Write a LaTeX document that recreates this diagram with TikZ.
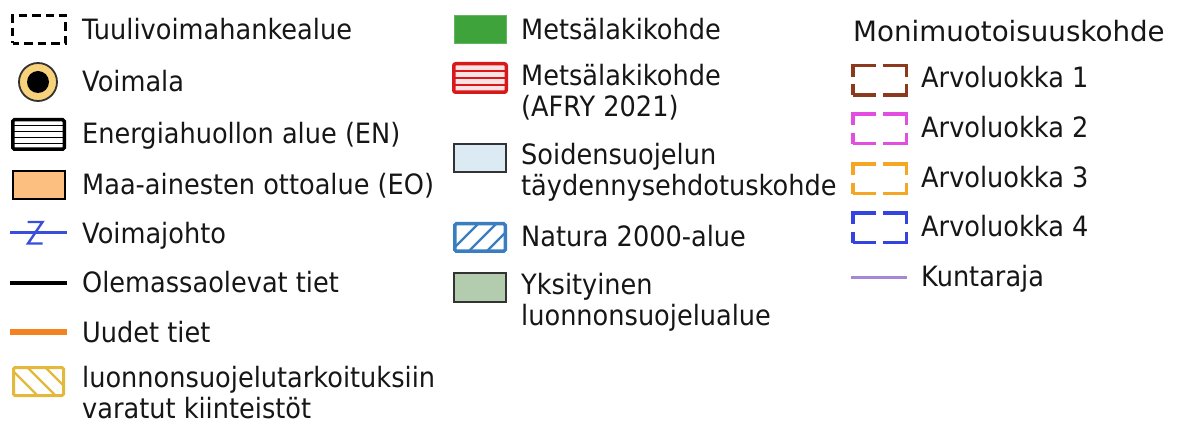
\documentclass[tikz,border=0pt]{standalone}
\usepackage{fontspec}
\setmainfont{DejaVu Sans}[FakeStretch=0.915]
\newfontfamily\headfont{DejaVu Sans}[FakeStretch=0.99]
\definecolor{voimgold}{HTML}{F8D27A}
\definecolor{maaorange}{HTML}{FDBF80}
\definecolor{johtoblue}{HTML}{3A4FD9}
\definecolor{tieorange}{HTML}{F58220}
\definecolor{varayellow}{HTML}{E2B93B}
\definecolor{metsagreen}{HTML}{3DA33A}
\definecolor{afryred}{HTML}{D7191C}
\definecolor{afrypink}{HTML}{FCE3E3}
\definecolor{soidenblue}{HTML}{DCEAF4}
\definecolor{naturablue}{HTML}{3A7EC0}
\definecolor{yksitgreen}{HTML}{B4CCAE}
\definecolor{boxgray}{HTML}{333333}
\definecolor{arvobrown}{HTML}{8B3A1E}
\definecolor{arvopink}{HTML}{E24FE0}
\definecolor{arvoorange}{HTML}{F5A623}
\definecolor{arvoblue}{HTML}{3444E0}
\definecolor{rajapurple}{HTML}{A686D6}
\definecolor{legblack}{HTML}{161616}
\usetikzlibrary{calc}
\tikzset{
	legtext/.style={anchor=base west, inner sep=0pt, align=left, text=legblack, font=\fontsize{28}{31}\selectfont},
	swatch/.style={rectangle, inner sep=0pt, minimum width=52pt, minimum height=28pt, line width=2pt},
	fillbox/.style={swatch, draw=boxgray, line width=1.8pt},
	arvobox/.style={swatch, minimum width=53.5pt, minimum height=29.5pt, line width=3.5pt, dash pattern=on 34pt off 7.5pt, dash phase=11pt},
	legline/.style={line width=3pt},
	hlines/.style 2 args={path picture={
		\foreach \f in {#2}
			\draw[line width=1.6pt, #1] ($(path picture bounding box.south west)!\f!(path picture bounding box.north west)$) -- ++(60pt,0);}},
	backhatch/.style={path picture={
		\foreach \d in {-4,14,32,50}
			\draw[line width=2.2pt, #1] ($(path picture bounding box.north west)+(\d pt,0)$) -- ++(34pt,-34pt);}},
	fwdhatch/.style={path picture={
		\foreach \d in {-4,14,32,50}
			\draw[line width=2.2pt, #1] ($(path picture bounding box.south west)+(\d pt,0)$) -- ++(34pt,34pt);}},
}
\begin{document}
\begin{tikzpicture}[x=1pt, y=-1pt]
	\useasboundingbox (0,0) rectangle (1178,430);
	% first column
	\node[swatch, minimum width=53pt, minimum height=28pt, line width=3.2pt, draw=black, dash pattern=on 8.5pt off 5pt, dash phase=2pt] (tuuli) at (39,29.5) {};
	\node[circle, draw=black!80, fill=voimgold, line width=1.8pt, minimum size=38pt, inner sep=0pt] (voimala) at (38,82) {};
	\node[circle, fill=black, minimum size=22pt, inner sep=0pt] (voimalain) at (voimala) {};
	\node[swatch, minimum width=51.5pt, minimum height=29.5pt, line width=3.5pt, draw=black, fill=white, rounded corners=1.5pt, hlines={black}{0.2,0.4,0.6,0.8}] (energia) at (38.5,134.5) {};
	\node[fillbox, draw=black, fill=maaorange] (maa) at (39,185) {};
	\coordinate (johtoa) at (10,233);
	\coordinate (johtob) at (67,233);
	\draw[legline, johtoblue] (johtoa) -- (johtob);
	\draw[line width=2.4pt, johtoblue] (27.5,222) -- (42.5,222) -- (28,243.5) -- (42.5,243.5);
	\coordinate (tiea) at (10,283);
	\coordinate (tieb) at (67,283);
	\draw[legline, line width=4pt, black] (tiea) -- (tieb);
	\coordinate (uusia) at (10,332);
	\coordinate (uusib) at (67,332);
	\draw[legline, line width=5pt, tieorange] (uusia) -- (uusib);
	\node[swatch, minimum width=50pt, minimum height=28pt, line width=3pt, draw=varayellow, fill=white, rounded corners=1.5pt, backhatch=varayellow] (varattu) at (38.5,381.5) {};
	\node[legtext] (tuulitxt) at (82,40) {Tuulivoimahankealue};
	\node[legtext] (voimalatxt) at (82,92) {Voimala};
	\node[legtext] (energiatxt) at (82,144) {Energiahuollon alue (EN)};
	\node[legtext] (maatxt) at (82,195) {Maa-ainesten ottoalue (EO)};
	\node[legtext] (johtotxt) at (82,244) {Voimajohto};
	\node[legtext] (tietxt) at (82,293) {Olemassaolevat tiet};
	\node[legtext] (uusitxt) at (82,342) {Uudet tiet};
	\node[legtext] (varattutxt) at (82,418) {luonnonsuojelutarkoituksiin\\varatut kiinteistöt};
	% second column
	\node[swatch, minimum width=52pt, minimum height=28pt, line width=1pt, draw=metsagreen!80!white, fill=metsagreen] (metsa) at (480.5,29.5) {};
	\node[swatch, minimum width=52.5pt, minimum height=28.5pt, line width=3.5pt, draw=afryred, fill=afrypink, rounded corners=2pt, hlines={afryred}{0.25,0.5,0.75}] (afry) at (480,78) {};
	\node[fillbox, fill=soidenblue] (soiden) at (480,158) {};
	\node[swatch, minimum width=50.5pt, minimum height=27.5pt, line width=3.5pt, draw=naturablue, fill=white, rounded corners=1.5pt, fwdhatch=naturablue] (natura) at (480,237.5) {};
	\node[fillbox, minimum height=29pt, fill=yksitgreen] (yksit) at (480,287.5) {};
	\node[legtext] (metsatxt) at (521,40) {Metsälakikohde};
	\node[legtext] (afrytxt) at (521,117) {Metsälakikohde\\(AFRY 2021)};
	\node[legtext] (soidentxt) at (521,196) {Soidensuojelun\\täydennysehdotuskohde};
	\node[legtext] (naturatxt) at (521,247) {Natura 2000-alue};
	\node[legtext] (yksittxt) at (521,326) {Yksityinen\\luonnonsuojelualue};
	% third column
	\node[legtext, font=\headfont\fontsize{28}{31}\selectfont] (monitxt) at (853,42) {Monimuotoisuuskohde};
	\node[arvobox, draw=arvobrown] (arvo1) at (879.5,80.5) {};
	\node[arvobox, draw=arvopink] (arvo2) at (879.5,129) {};
	\node[arvobox, draw=arvoorange] (arvo3) at (879.5,179) {};
	\node[arvobox, draw=arvoblue] (arvo4) at (879.5,228) {};
	\coordinate (rajaa) at (851,278);
	\coordinate (rajab) at (907,278);
	\draw[legline, rajapurple] (rajaa) -- (rajab);
	\node[legtext] (arvo1txt) at (921,88) {Arvoluokka 1};
	\node[legtext] (arvo2txt) at (921,138) {Arvoluokka 2};
	\node[legtext] (arvo3txt) at (921,188) {Arvoluokka 3};
	\node[legtext] (arvo4txt) at (921,237) {Arvoluokka 4};
	\node[legtext] (rajatxt) at (921,287) {Kuntaraja};
\end{tikzpicture}
\end{document}
